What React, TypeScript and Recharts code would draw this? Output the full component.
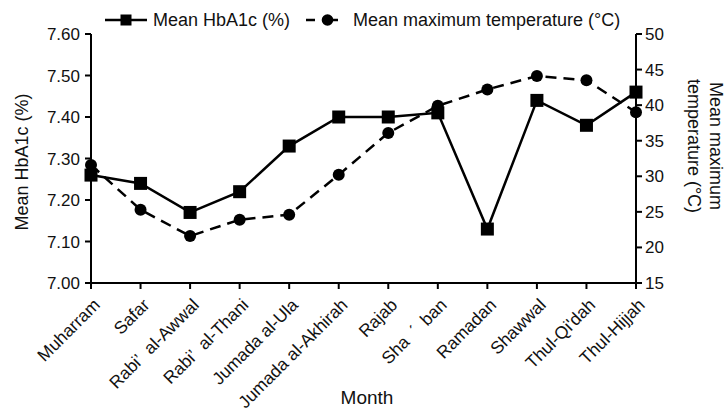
import React from 'react';
import { LineChart, Line, XAxis, YAxis, Label } from 'recharts';

const months = [
  'Muharram',
  'Safar',
  'Rabi’\u2002al-Awwal',
  'Rabi’\u2002al-Thani',
  'Jumada al-Ula',
  'Jumada al-Akhirah',
  'Rajab',
  'Sha\u2002ˊ\u2002ban',
  'Ramadan',
  'Shawwal',
  "Thul-Qi'dah",
  'Thul-Hijjah',
];
const hba1c = [7.26, 7.24, 7.17, 7.22, 7.33, 7.4, 7.4, 7.41, 7.13, 7.44, 7.38, 7.46];
const temperature = [31.6, 25.3, 21.6, 23.9, 24.6, 30.2, 36.1, 39.9, 42.2, 44.1, 43.5, 39.0];
const leftTicks = [7.0, 7.1, 7.2, 7.3, 7.4, 7.5, 7.6];
const rightTicks = [15, 20, 25, 30, 35, 40, 45, 50];

const FONT = '"Liberation Sans", Arial, sans-serif';

const data = months.map((m, i) => ({ month: m, hba1c: hba1c[i], temp: temperature[i] }));

const XTick = (props: any) => {
  const { x, y, payload } = props;
  const ax = x + 10;
  const ay = y + 15;
  return (
    <text
      x={ax}
      y={ay}
      transform={`rotate(-45 ${ax} ${ay})`}
      textAnchor="end"
      fontSize={17.5}
      fontFamily={FONT}
      fill="#111"
    >
      {payload.value}
    </text>
  );
};

const SquareDot = (props: any) => {
  const { cx, cy, index } = props;
  if (cx == null || cy == null) return <g key={`sq-${index}`} />;
  return <rect key={`sq-${index}`} x={cx - 6.5} y={cy - 6.5} width={13} height={13} fill="#000" />;
};

const CircleDot = (props: any) => {
  const { cx, cy, index } = props;
  if (cx == null || cy == null) return <g key={`ci-${index}`} />;
  return <circle key={`ci-${index}`} cx={cx} cy={cy} r={6} fill="#000" />;
};

export default function App() {
  return (
    <div style={{ position: 'absolute', left: 0, top: 0, width: 726, height: 414, background: '#fff' }}>
      <LineChart
        width={726}
        height={414}
        data={data}
        margin={{ top: 34, right: 0, bottom: 0, left: 0 }}
      >
        <XAxis
          dataKey="month"
          interval={0}
          height={131}
          tick={<XTick />}
          tickSize={6}
          axisLine={{ stroke: '#000', strokeWidth: 2 }}
          tickLine={{ stroke: '#000', strokeWidth: 2 }}
        >
          <Label
            content={() => (
              <text x={367} y={404} textAnchor="middle" fontSize={19} fontFamily={FONT} fill="#111">
                Month
              </text>
            )}
          />
        </XAxis>
        <YAxis
          yAxisId="left"
          orientation="left"
          width={91}
          domain={[7.0, 7.6]}
          ticks={leftTicks}
          tickFormatter={(v: number) => v.toFixed(2)}
          tickSize={6}
          tickMargin={5}
          tick={{ fontSize: 17, fontFamily: FONT, fill: '#111' }}
          axisLine={{ stroke: '#000', strokeWidth: 2 }}
          tickLine={{ stroke: '#000', strokeWidth: 2 }}
        >
          <Label
            content={() => (
              <text
                x={28}
                y={162}
                transform="rotate(-90 28 162)"
                textAnchor="middle"
                fontSize={18}
                fontFamily={FONT}
                fill="#111"
              >
                Mean HbA1c (%)
              </text>
            )}
          />
        </YAxis>
        <YAxis
          yAxisId="right"
          orientation="right"
          width={90}
          domain={[15, 50]}
          ticks={rightTicks}
          tickSize={6}
          tickMargin={3}
          tick={{ fontSize: 17, fontFamily: FONT, fill: '#111' }}
          axisLine={{ stroke: '#000', strokeWidth: 2 }}
          tickLine={{ stroke: '#000', strokeWidth: 2 }}
        >
          <Label
            content={() => (
              <text
                x={709.5}
                y={146}
                transform="rotate(90 709.5 146)"
                textAnchor="middle"
                fontSize={18}
                fontFamily={FONT}
                fill="#111"
              >
                <tspan x={709.5} dy={0}>Mean maximum</tspan>
                <tspan x={709.5} dy={22}>temperature (°C)</tspan>
              </text>
            )}
          />
        </YAxis>
        <Line
          yAxisId="right"
          dataKey="temp"
          stroke="#000"
          strokeWidth={2.5}
          strokeDasharray="11 7"
          dot={<CircleDot />}
          activeDot={false}
          isAnimationActive={false}
        />
        <Line
          yAxisId="left"
          dataKey="hba1c"
          stroke="#000"
          strokeWidth={2.5}
          dot={<SquareDot />}
          activeDot={false}
          isAnimationActive={false}
        />
      </LineChart>
      <svg
        width={726}
        height={34}
        style={{ position: 'absolute', left: 0, top: 0, pointerEvents: 'none' }}
      >
        <line x1={105} y1={20} x2={147} y2={20} stroke="#000" strokeWidth={2.5} />
        <rect x={120.5} y={14.5} width={11} height={11} fill="#000" />
        <text x={153} y={26} fontSize={18} fontFamily={FONT} fill="#111">
          Mean HbA1c (%)
        </text>
        <line x1={306} y1={20} x2={315} y2={20} stroke="#000" strokeWidth={2.5} />
        <line x1={327} y1={20} x2={338} y2={20} stroke="#000" strokeWidth={2.5} />
        <circle cx={327.5} cy={20} r={5.8} fill="#000" />
        <text x={353} y={26} fontSize={18} fontFamily={FONT} fill="#111">
          Mean maximum temperature (°C)
        </text>
      </svg>
    </div>
  );
}
